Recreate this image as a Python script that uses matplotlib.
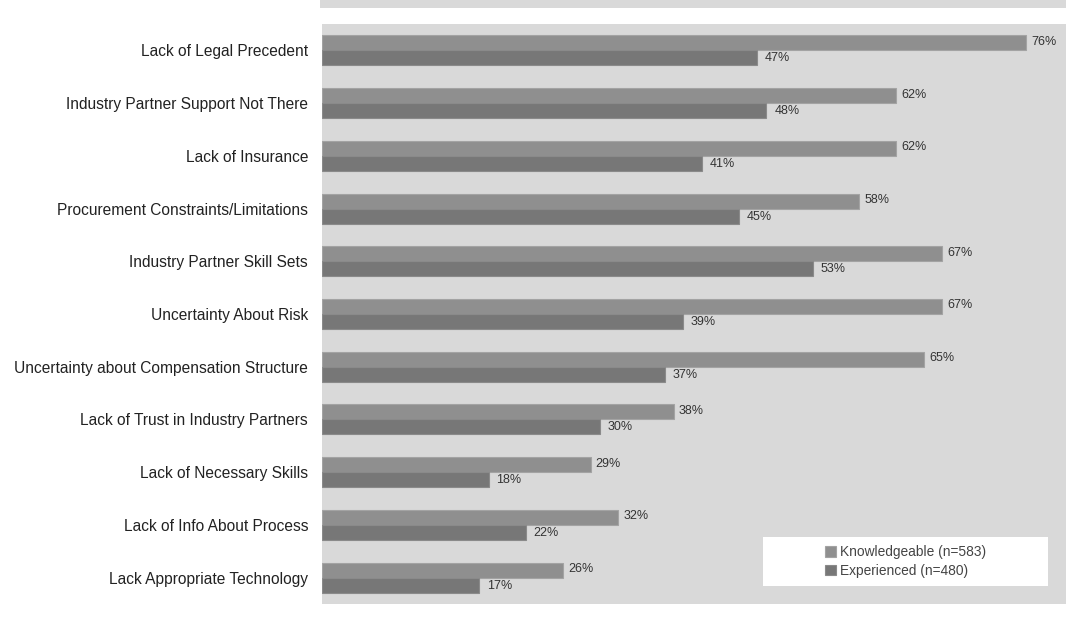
import numpy as np
import matplotlib
matplotlib.use('Agg')
import matplotlib.pyplot as plt
from matplotlib.patches import Rectangle

plt.rcParams['font.family'] = ['Liberation Sans', 'DejaVu Sans']

categories = ['Lack of Legal Precedent', 'Industry Partner Support Not There', 'Lack of Insurance',
              'Procurement Constraints/Limitations', 'Industry Partner Skill Sets',
              'Uncertainty About Risk', 'Uncertainty about Compensation Structure',
              'Lack of Trust in Industry Partners', 'Lack of Necessary Skills',
              'Lack of Info About Process', 'Lack Appropriate Technology']
knowledgeable = [76, 62, 62, 58, 67, 67, 65, 38, 29, 32, 26]
experienced = [47, 48, 41, 45, 53, 39, 37, 30, 18, 22, 17]
series_names = ['Knowledgeable (n=583)', 'Experienced (n=480)']

bg = '#d9d9d9'
c_know = '#8f8f8f'
c_exp = '#777777'

fig = plt.figure(figsize=(10.66, 6.21), dpi=100)
ax = fig.add_axes([322/1066, 17/621, 744/1066, 580/621])
ax.set_facecolor(bg)

# strip at the top of the figure
fig.patches.append(Rectangle((320/1066, 1 - 8/621), 1, 8/621, transform=fig.transFigure,
                             facecolor=bg, edgecolor='none'))

y = np.arange(len(categories))
h = 0.285
ax.barh(y - h/2, knowledgeable, height=h, color=c_know, edgecolor='#a3a3a3', linewidth=0.8,
        label=series_names[0])
ax.barh(y + h/2, experienced, height=h, color=c_exp, edgecolor='#8a8a8a', linewidth=0.8,
        label=series_names[1])

for yy, v in zip(y, knowledgeable):
    ax.text(v + 0.55, yy - h/2 - 0.02, f'{v}%', va='center', ha='left', fontsize=9, color='#333333')
for yy, v in zip(y, experienced):
    ax.text(v + 0.85, yy + h/2 + 0.01, f'{v}%', va='center', ha='left', fontsize=9, color='#333333')

ax.set_xlim(0, 744/9.26)
ax.set_ylim(len(categories) - 0.5, -0.5)
ax.set_yticks(y)
ax.set_yticklabels(categories, fontsize=11.2, color='#222222')
ax.set_xticks([])
ax.tick_params(axis='y', length=0, pad=10)
for s in ax.spines.values():
    s.set_visible(False)

# legend box
ax.add_patch(Rectangle((0.593, 0.031), 0.383, 0.0845, transform=ax.transAxes,
                       facecolor='white', edgecolor='none', zorder=3))
leg = ax.legend(loc='center', bbox_to_anchor=(0.7845, 0.0733), frameon=False, fontsize=9.9,
                handlelength=0.8, handleheight=0.8, handletextpad=0.3, labelspacing=0.3,
                labelcolor='#444444')
leg.set_zorder(4)

fig.savefig('out.png', dpi=100)
